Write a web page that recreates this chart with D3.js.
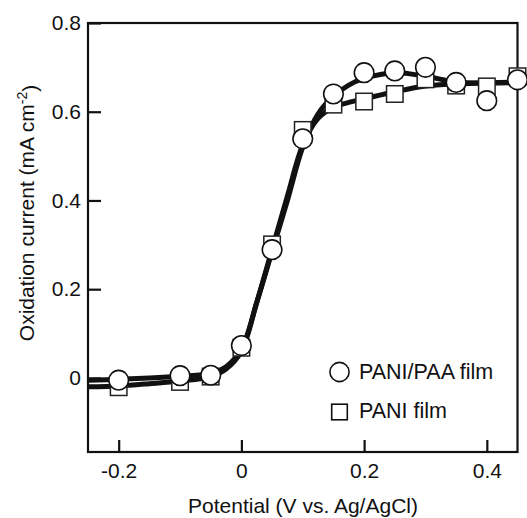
<!DOCTYPE html>
<html>
<head>
<meta charset="utf-8">
<script src="https://cdn.jsdelivr.net/npm/d3@7/dist/d3.min.js"></script>
<style>
  html, body { margin: 0; padding: 0; background: #fff; }
  svg { display: block; font-family: "Liberation Sans", Arial, Helvetica, sans-serif; }
</style>
</head>
<body>
<svg id="chart" width="527" height="518"></svg>
<script>
// Measured potentials (V vs. Ag/AgCl)
const potential = [-0.2, -0.1, -0.05, 0, 0.05, 0.1, 0.15, 0.2, 0.25, 0.3, 0.35, 0.4, 0.45];
// Oxidation current (mA cm-2) for each film
const paniPaa = [-0.005, 0.005, 0.006, 0.073, 0.289, 0.539, 0.640, 0.688, 0.692, 0.700, 0.666, 0.625, 0.672];
const pani    = [-0.021, -0.009, 0.003, 0.068, 0.301, 0.559, 0.616, 0.623, 0.640, 0.673, 0.659, 0.657, 0.680];

// Smoothed trend curves drawn through each data set
const fitPotential = [-0.25, -0.2, -0.15, -0.1, -0.05, -0.025, 0, 0.025, 0.05, 0.075, 0.1, 0.125, 0.15, 0.175, 0.2, 0.25, 0.3, 0.35, 0.4, 0.45];
const fitPaniPaa   = [-0.005, -0.003, 0.000, 0.004, 0.010, 0.025, 0.065, 0.170, 0.285, 0.400, 0.520, 0.595, 0.635, 0.660, 0.675, 0.688, 0.680, 0.667, 0.665, 0.666];
const fitPani      = [-0.020, -0.018, -0.013, -0.007, 0.003, 0.020, 0.060, 0.170, 0.290, 0.410, 0.525, 0.585, 0.610, 0.621, 0.629, 0.645, 0.658, 0.663, 0.665, 0.667];

const xTicks = [-0.2, 0, 0.2, 0.4];
const yTicks = [0, 0.2, 0.4, 0.6, 0.8];
const legendLabels = ["PANI/PAA film", "PANI film"];

const margin = { left: 88, right: 9.5, top: 23, bottom: 66 };
const W = 527, H = 518;
const svg = d3.select("#chart");

const x = d3.scaleLinear().domain([-0.25, 0.45]).range([margin.left, W - margin.right]);
const y = d3.scaleLinear().domain([-0.167, 0.8]).range([H - margin.bottom, margin.top]);

const fmt = d => d === 0 ? "0" : d.toFixed(1);
const fontSize = 21;

// Axes with inward ticks
const xAxis = svg.append("g")
  .attr("transform", `translate(0,${y.range()[0]})`)
  .call(d3.axisBottom(x).tickValues(xTicks).tickFormat(fmt).tickSizeInner(-12).tickSizeOuter(0).tickPadding(11));
const yAxis = svg.append("g")
  .attr("transform", `translate(${x.range()[0]},0)`)
  .call(d3.axisLeft(y).tickValues(yTicks).tickFormat(fmt).tickSizeInner(-13).tickSizeOuter(0).tickPadding(7));

[xAxis, yAxis].forEach(g => {
  g.select(".domain").remove();
  g.selectAll(".tick line").attr("stroke", "#111").attr("stroke-width", 2.2);
  g.selectAll(".tick text").attr("fill", "#111").style("font-size", fontSize + "px")
    .style("font-family", "'Liberation Sans', Arial, sans-serif");
});

// Plot frame
svg.append("rect")
  .attr("x", x.range()[0]).attr("y", y.range()[1])
  .attr("width", x.range()[1] - x.range()[0])
  .attr("height", y.range()[0] - y.range()[1])
  .attr("fill", "none").attr("stroke", "#111").attr("stroke-width", 2.2);

// Trend curves
const line = d3.line().x(d => x(d[0])).y(d => y(d[1])).curve(d3.curveCatmullRom.alpha(0.5));
const plot = svg.append("g");
[fitPani, fitPaniPaa].forEach(vals => {
  plot.append("path")
    .datum(fitPotential.map((p, i) => [p, vals[i]]))
    .attr("d", line)
    .attr("fill", "none").attr("stroke", "#111").attr("stroke-width", 5)
    .attr("stroke-linejoin", "round");
});

// Square markers (PANI film)
const sq = 16.5;
plot.selectAll("rect.pani").data(potential.map((p, i) => [p, pani[i]]))
  .join("rect").attr("class", "pani")
  .attr("x", d => x(d[0]) - sq / 2).attr("y", d => y(d[1]) - sq / 2)
  .attr("width", sq).attr("height", sq)
  .attr("fill", "#fff").attr("stroke", "#222").attr("stroke-width", 1.5);

// Circle markers (PANI/PAA film)
plot.selectAll("circle.panipaa").data(potential.map((p, i) => [p, paniPaa[i]]))
  .join("circle").attr("class", "panipaa")
  .attr("cx", d => x(d[0])).attr("cy", d => y(d[1])).attr("r", 9.8)
  .attr("fill", "#fff").attr("stroke", "#111").attr("stroke-width", 1.6);

// Legend
const leg = svg.append("g");
leg.append("circle").attr("cx", 339.5).attr("cy", 372).attr("r", 9.6)
  .attr("fill", "#fff").attr("stroke", "#111").attr("stroke-width", 1.6);
leg.append("rect").attr("x", 339.5 - 7.8).attr("y", 412 - 7.8).attr("width", 15.6).attr("height", 15.6)
  .attr("fill", "#fff").attr("stroke", "#111").attr("stroke-width", 1.6);
leg.selectAll("text").data(legendLabels).join("text")
  .attr("x", 359).attr("y", (d, i) => 379 + i * 39)
  .attr("fill", "#111").style("font-size", "21.5px")
  .text(d => d);

// Axis titles
svg.append("text")
  .attr("x", 303).attr("y", 513)
  .attr("text-anchor", "middle").attr("fill", "#111").style("font-size", fontSize + "px")
  .text("Potential (V vs. Ag/AgCl)");

const yTitle = svg.append("text")
  .attr("transform", "translate(33.5,213) rotate(-90)")
  .attr("text-anchor", "middle").attr("fill", "#111").style("font-size", fontSize + "px");
yTitle.append("tspan").text("Oxidation current (mA cm");
yTitle.append("tspan").attr("dy", "-0.45em").style("font-size", "14px").text("-2");
yTitle.append("tspan").attr("dy", "0.45em").text(")");
</script>
</body>
</html>
